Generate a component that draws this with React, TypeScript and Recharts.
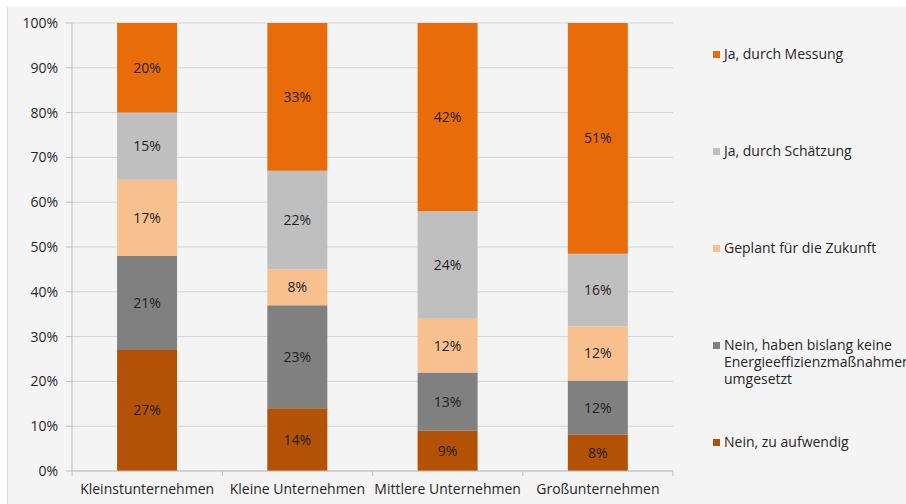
import { BarChart, Bar, XAxis, YAxis, CartesianGrid, LabelList } from "recharts";

const categories = ["Kleinstunternehmen", "Kleine Unternehmen", "Mittlere Unternehmen", "Großunternehmen"];

const neinAufwendig = [27, 14, 9, 8];
const neinBislang = [21, 23, 13, 12];
const geplant = [17, 8, 12, 12];
const schaetzung = [15, 22, 24, 16];
const messung = [20, 33, 42, 51];

const yTicks = [0, 0.1, 0.2, 0.3, 0.4, 0.5, 0.6, 0.7, 0.8, 0.9, 1];

const SERIES = [
  { key: "neinAufwendig", label: "Nein, zu aufwendig", color: "#b35107", values: neinAufwendig },
  {
    key: "neinBislang",
    label: "Nein, haben bislang keine Energieeffizienzmaßnahmen umgesetzt",
    color: "#808080",
    values: neinBislang,
  },
  { key: "geplant", label: "Geplant für die Zukunft", color: "#f9c08f", values: geplant },
  { key: "schaetzung", label: "Ja, durch Schätzung", color: "#bfbfbf", values: schaetzung },
  { key: "messung", label: "Ja, durch Messung", color: "#e96c0b", values: messung },
];

const data = categories.map((name, i) => {
  const row: Record<string, string | number> = { name };
  SERIES.forEach(s => (row[s.key] = s.values[i]));
  return row;
});

const FONT = "'Open Sans', 'DejaVu Sans', sans-serif";
const FS = 14;
const PLOT_W = 600;
const HALF_BAND = PLOT_W / categories.length / 2;

interface TickProps {
  x?: number;
  y?: number;
  index?: number;
  payload?: { value: string };
}

function CategoryTick({ x = 0, y = 0, index = 0, payload }: TickProps) {
  return (
    <g>
      <line x1={x - HALF_BAND} x2={x - HALF_BAND} y1={y} y2={y + 5} stroke="#bfbfbf" />
      {index === categories.length - 1 && (
        <line x1={x + HALF_BAND} x2={x + HALF_BAND} y1={y} y2={y + 5} stroke="#bfbfbf" />
      )}
      <text x={x} y={y + 23} textAnchor="middle" fontSize={FS} fill="#262626" fontFamily={FONT}>
        {payload?.value}
      </text>
    </g>
  );
}

export default function App() {
  const legendItems = [...SERIES].reverse();
  return (
    <div
      style={{
        position: "absolute",
        left: 7,
        top: 7,
        width: 899,
        height: 497,
        background: "#f4f4f4",
        borderLeft: "1px solid #d9d9d9",
        boxSizing: "border-box",
        overflow: "hidden",
        fontFamily: FONT,
      }}
    >
      <BarChart
        width={898}
        height={497}
        data={data}
        stackOffset="expand"
        barCategoryGap="30%"
        margin={{ top: 16, right: 233, bottom: 0, left: 0 }}
      >
        <CartesianGrid vertical={false} stroke="#d4d4d4" />
        <XAxis
          dataKey="name"
          height={33}
          tickLine={false}
          tickSize={0}
          tickMargin={0}
          stroke="#bfbfbf"
          interval={0}
          tick={<CategoryTick />}
        />
        <YAxis
          width={64}
          domain={[0, 1]}
          ticks={yTicks}
          tickFormatter={(v: number) => `${Math.round(v * 100)}%`}
          stroke="#bfbfbf"
          tickSize={6}
          tickMargin={8}
          tick={{ fill: "#262626", fontSize: FS, fontFamily: FONT }}
        />
        {SERIES.map(s => (
          <Bar key={s.key} dataKey={s.key} stackId="a" fill={s.color} isAnimationActive={false}>
            <LabelList
              dataKey={s.key}
              position="center"
              formatter={(v: number) => `${v}%`}
              style={{ fill: "#1f1f1f", fontSize: FS, fontFamily: FONT }}
            />
          </Bar>
        ))}
      </BarChart>
      <div style={{ position: "absolute", left: 705, top: 38, width: 200 }}>
        {legendItems.map(s => (
          <div key={s.key} style={{ height: 97, display: "flex", alignItems: "flex-start" }}>
            <span
              style={{
                width: 7,
                height: 7,
                background: s.color,
                marginTop: 6,
                marginRight: 4,
                flexShrink: 0,
              }}
            />
            <span style={{ fontSize: FS, lineHeight: "17px", color: "#262626", width: 180 }}>{s.label}</span>
          </div>
        ))}
      </div>
    </div>
  );
}
